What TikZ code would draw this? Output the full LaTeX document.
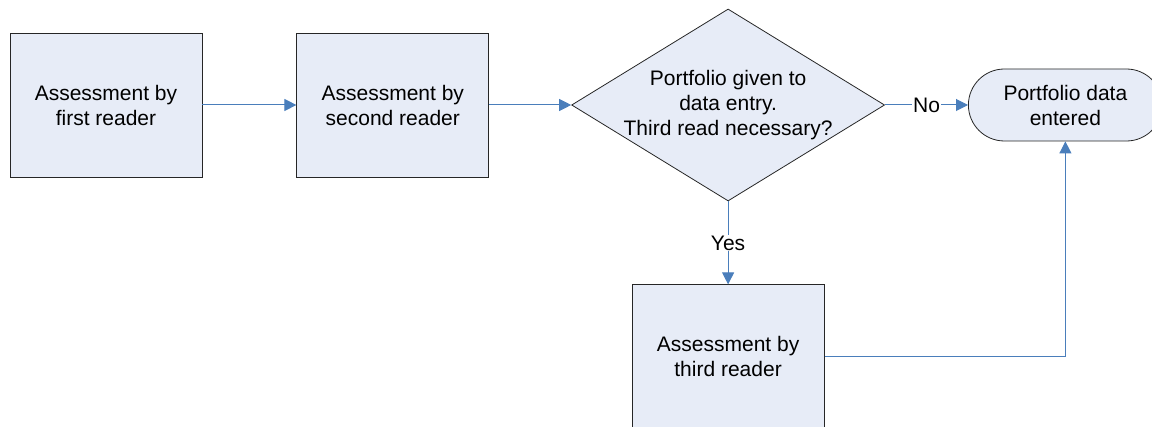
\documentclass[tikz,border=0pt]{standalone}
\usepackage{fontspec}
\setmainfont{Liberation Sans}
\usepackage{tikz}
\usetikzlibrary{positioning}
\usetikzlibrary{shapes.geometric}
\usetikzlibrary{arrows.meta}

\definecolor{boxfill}{RGB}{231,236,247}
\definecolor{flowblue}{RGB}{74,126,187}

\begin{document}
\begin{tikzpicture}[x=1pt, y=-1pt,
        font=\fontsize{21}{25}\selectfont,
        assess/.style={rectangle, draw=black!85, fill=boxfill, line width=0.8pt, minimum width=192pt, minimum height=144pt, align=center},
        decide/.style={diamond, draw=black!85, fill=boxfill, line width=0.8pt, minimum width=313pt, minimum height=192pt, inner sep=0pt},
        finish/.style={rectangle, rounded corners=36pt, draw=black!85, fill=boxfill, line width=0.8pt, minimum width=194pt, minimum height=72pt, align=center},
        flow/.style={draw=flowblue, line width=1pt, -{Triangle[length=12pt, width=12pt]}},
        tag/.style={fill=white, inner sep=1pt}
      ]
        \useasboundingbox (0,0) rectangle (1152,427);

        \node[assess]  (first)  at (106,105)                     {Assessment by\\first reader};
        \node[assess]  (second)    [right=94pt of first]         {Assessment by\\second reader};
        \node[decide]  (decision)  [right=82pt of second]        {};
        \node[align=center] (question) at (decision.center) {Portfolio given to\\data entry.\\Third read necessary?};
        \node[finish]  (entered)   [right=83pt of decision]      {Portfolio data\\entered};
        \node[assess]  (third)     [below=83pt of decision]      {Assessment by\\third reader};

        \draw[flow]  (first) -- (second);
        \draw[flow]  (second) -- (decision);
        \draw[flow]  (decision) -- node[tag] (no) {No} (entered);
        \draw[flow]  (decision) -- node[tag] (yes) {Yes} (third);
        \draw[flow]  (third.east) -| (entered.south);
      \end{tikzpicture}
\end{document}
